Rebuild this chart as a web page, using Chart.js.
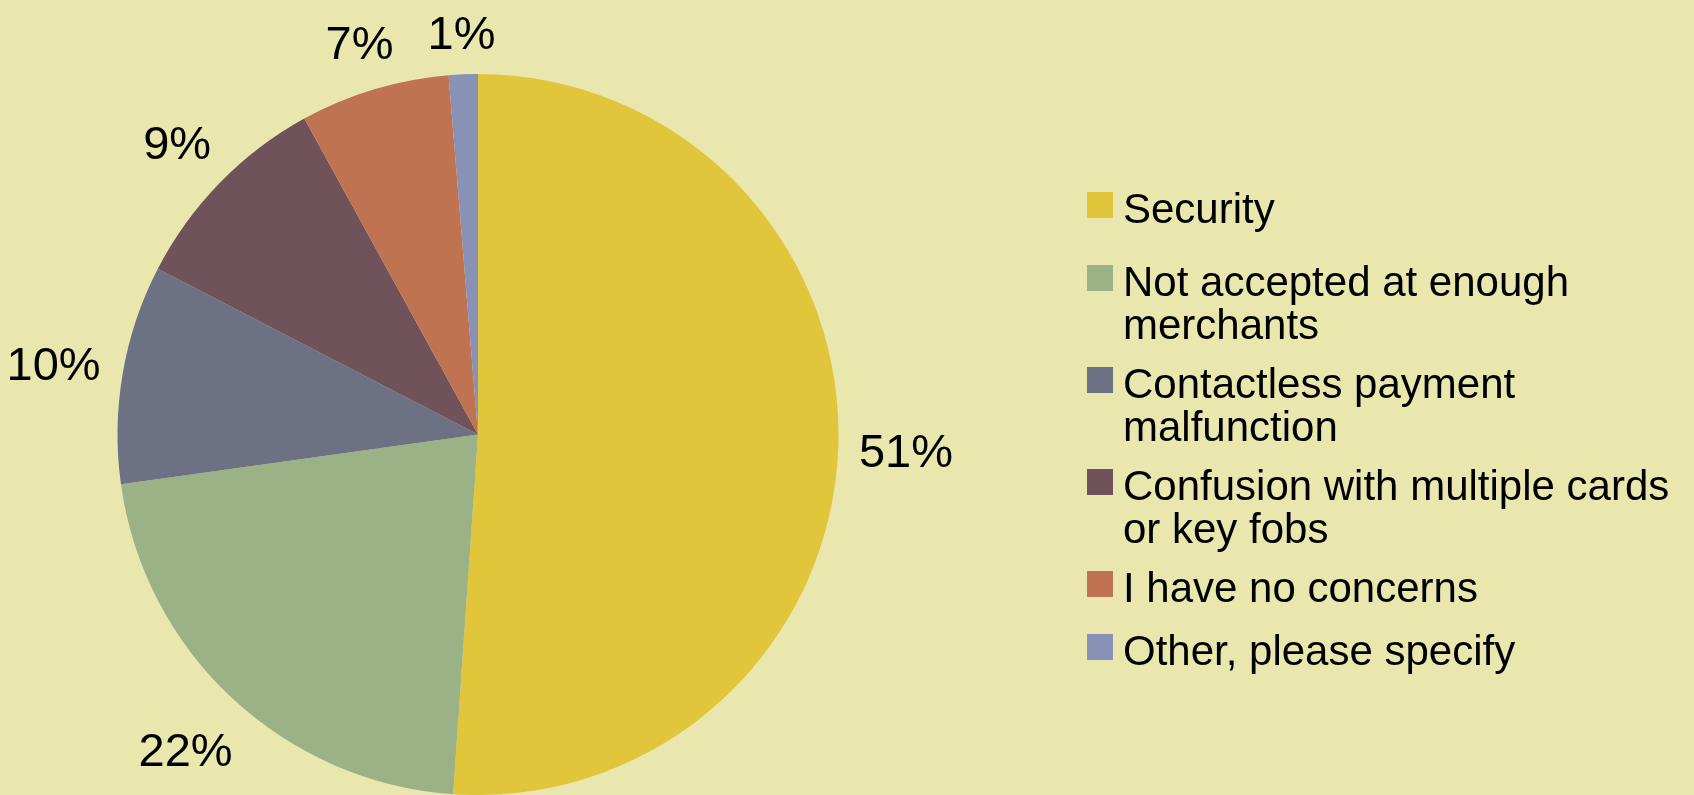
<!DOCTYPE html>
<html>
<head>
<meta charset="utf-8">
<script src="https://cdn.jsdelivr.net/npm/chart.js@4/dist/chart.umd.min.js"></script>
<style>
  html, body { margin: 0; padding: 0; background: #E9E7AD; }
  body { width: 1694px; height: 795px; position: relative; overflow: hidden; font-family: "Liberation Sans", Arial, sans-serif; }
  #wrap { position: absolute; left: 0; top: 0; width: 1694px; height: 795px; }
  #legend { position: absolute; left: 1087px; top: 187px; margin: 0; padding: 0; list-style: none; }
  #legend li { display: flex; align-items: flex-start; margin-bottom: 16px; }
  #legend li:first-child { margin-bottom: 30px; }
  #legend li:nth-child(5) { margin-bottom: 20px; }
  #legend .box { width: 26px; height: 26px; flex: none; margin-top: 5px; margin-right: 10px; }
  #legend .txt { width: 575px; font-size: 42px; line-height: 43px; color: #000; }
</style>
</head>
<body>
<div id="wrap"><canvas id="pie" width="1694" height="795"></canvas></div>
<ul id="legend"></ul>
<script>
const categories = [
  "Security",
  "Not accepted at enough merchants",
  "Contactless payment malfunction",
  "Confusion with multiple cards or key fobs",
  "I have no concerns",
  "Other, please specify",
];
const shares = [51.1, 21.7, 9.8, 9.4, 6.7, 1.3];
const sliceColors = ["#E1C53B", "#9BB287", "#6C7284", "#70525A", "#C07350", "#8991B7"];

// percent labels outside each slice
const outsideLabels = {
  id: "outsideLabels",
  afterDatasetsDraw(chart) {
    const ctx = chart.ctx;
    const meta = chart.getDatasetMeta(0);
    const total = shares.reduce((a, b) => a + b, 0);
    ctx.save();
    ctx.font = '47px "Liberation Sans", Arial, sans-serif';
    ctx.fillStyle = "#000";
    ctx.textAlign = "center";
    ctx.textBaseline = "middle";
    meta.data.forEach((arc, i) => {
      const p = arc.getProps(["x", "y", "startAngle", "endAngle", "outerRadius"], true);
      const mid = (p.startAngle + p.endAngle) / 2;
      const ux = Math.cos(mid), uy = Math.sin(mid);
      const text = Math.round(shares[i] / total * 100) + "%";
      const hw = ctx.measureText(text).width / 2;
      const hh = 22;
      const d = p.outerRadius + 20 + Math.abs(ux) * hw + Math.abs(uy) * hh;
      ctx.fillText(text, p.x + ux * d, p.y + uy * d + 5);
    });
    ctx.restore();
  },
};

new Chart(document.getElementById("pie"), {
  type: "pie",
  data: {
    labels: categories,
    datasets: [{
      data: shares,
      backgroundColor: sliceColors,
      borderWidth: 0,
    }],
  },
  options: {
    responsive: false,
    animation: false,
    events: [],
    layout: { padding: { left: 117, right: 855, top: 74, bottom: 0 } },
    plugins: {
      legend: { display: false },
      tooltip: { enabled: false },
    },
  },
  plugins: [outsideLabels],
});

const legend = document.getElementById("legend");
categories.forEach((name, i) => {
  const li = document.createElement("li");
  li.innerHTML = '<span class="box" style="background:' + sliceColors[i] + '"></span><span class="txt">' + name + "</span>";
  legend.appendChild(li);
});
</script>
</body>
</html>
